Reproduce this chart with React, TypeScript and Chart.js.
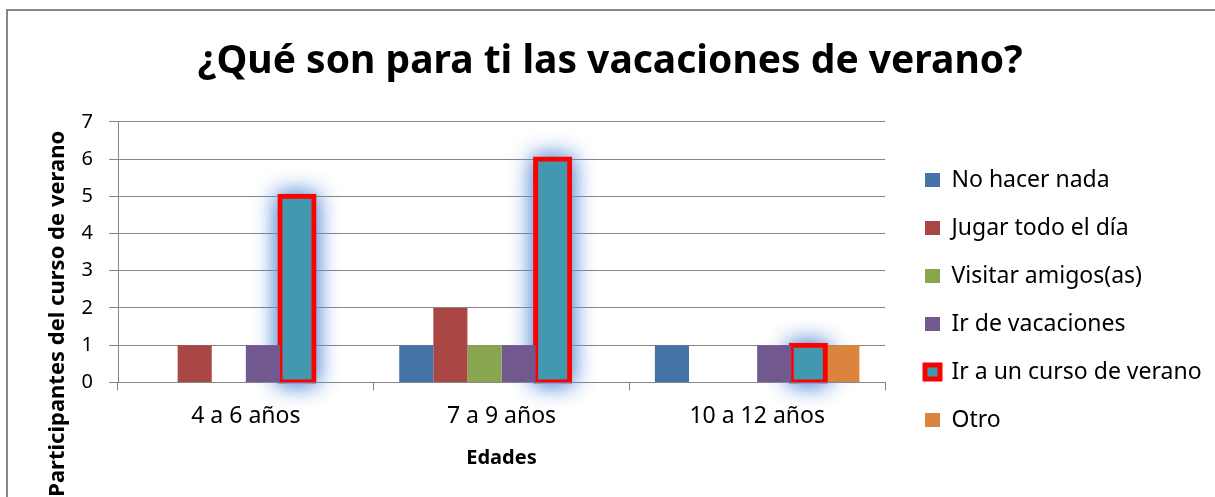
import React, { useEffect, useRef } from 'react';
import { Chart, registerables } from 'chart.js';

Chart.register(...registerables);

const chartTitle = '¿Qué son para ti las vacaciones de verano?';
const yAxisTitle = 'Participantes del curso de verano';
const xAxisTitle = 'Edades';

const categories = ['4 a 6 años', '7 a 9 años', '10 a 12 años'];
const seriesNames = [
  'No hacer nada',
  'Jugar todo el día',
  'Visitar amigos(as)',
  'Ir de vacaciones',
  'Ir a un curso de verano',
  'Otro',
];
const noHacerNada = [0, 1, 1];
const jugarTodoElDia = [1, 2, 0];
const visitarAmigos = [0, 1, 0];
const irDeVacaciones = [1, 1, 1];
const irACursoDeVerano = [5, 6, 1];
const otro = [0, 0, 1];
const yMin = 0;
const yMax = 7;
const yStep = 1;

const seriesColors = ['#4572A7', '#AA4643', '#89A54E', '#71588F', '#4198AF', '#DB843D'];
const HIGHLIGHT = 4;

const FONT = '"Noto Sans", sans-serif';
const CANVAS_W = 1206;
const CANVAS_H = 485;
const LEGEND_FONT = 23;
const LEGEND_BOX_W = 15;
const LEGEND_PAD = 40;
const TARGET_RIGHT = 876;

const glowPlugin = {
  id: 'glow',
  beforeDatasetsDraw(chart: any) {
    const meta = chart.getDatasetMeta(HIGHLIGHT);
    if (!meta || meta.hidden) return;
    const ctx = chart.ctx;
    ctx.save();
    ctx.shadowColor = 'rgba(95,145,215,0.85)';
    ctx.shadowBlur = 22;
    ctx.fillStyle = 'rgba(120,165,225,1)';
    for (let k = 0; k < 2; k++) {
      for (const el of meta.data) {
        const { x, y, base, width } = el.getProps(['x', 'y', 'base', 'width'], true);
        ctx.fillRect(x - width / 2 - 2, Math.min(y, base) - 2, width + 4, Math.abs(base - y) + 4);
      }
    }
    ctx.restore();
  },
};

const yTitlePlugin = {
  id: 'yTitleRot',
  afterDraw(chart: any) {
    const { ctx, chartArea } = chart;
    ctx.save();
    ctx.translate(49, chartArea.top + 9);
    ctx.rotate(-Math.PI / 2);
    ctx.font = `bold 22px ${FONT}`;
    ctx.fillStyle = '#000';
    ctx.textAlign = 'right';
    ctx.textBaseline = 'middle';
    ctx.fillText(yAxisTitle, 0, 0);
    ctx.restore();
  },
};

export default function App() {
  const ref = useRef<HTMLCanvasElement | null>(null);

  useEffect(() => {
    if (!ref.current) return;
    const mctx = document.createElement('canvas').getContext('2d')!;
    mctx.font = `${LEGEND_FONT}px ${FONT}`;
    const maxW = Math.max(...seriesNames.map((s) => mctx.measureText(s).width));
    const legendWidth = LEGEND_PAD + LEGEND_BOX_W + LEGEND_FONT / 2 + maxW + 10;
    const padRight = Math.max(0, CANVAS_W - TARGET_RIGHT - legendWidth);

    const values = [noHacerNada, jugarTodoElDia, visitarAmigos, irDeVacaciones, irACursoDeVerano, otro];
    const datasets = seriesNames.map((name, i) => ({
      label: name,
      data: values[i],
      backgroundColor: seriesColors[i],
      borderColor: i === HIGHLIGHT ? '#FF0000' : seriesColors[i],
      borderWidth: i === HIGHLIGHT ? 5 : 0,
      borderSkipped: false,
      inflateAmount: i === HIGHLIGHT ? 2.5 : 0,
      barPercentage: 1,
      categoryPercentage: 0.8,
    }));

    Chart.defaults.font.family = FONT;
    const chart = new Chart(ref.current, {
      type: 'bar',
      data: { labels: categories, datasets },
      plugins: [glowPlugin, yTitlePlugin],
      options: {
        animation: false,
        responsive: false,
        layout: { padding: { left: 0, right: padRight, top: 0, bottom: 0 } },
        plugins: {
          tooltip: { enabled: false },
          title: {
            display: true,
            text: chartTitle,
            color: '#000',
            font: { size: 39, weight: 'bold', family: FONT },
            padding: { top: 26, bottom: 37 },
          },
          legend: {
            position: 'right',
            align: 'center',
            maxWidth: 600,
            title: {
              display: true,
              text: ' ',
              font: { size: 10, lineHeight: 1 },
              padding: { top: 66, bottom: 0 },
            },
            labels: {
              color: '#000',
              font: { size: LEGEND_FONT, lineHeight: '8px', family: FONT },
              boxWidth: LEGEND_BOX_W,
              boxHeight: 14,
              padding: LEGEND_PAD,
              generateLabels: (c: any) =>
                Chart.defaults.plugins.legend.labels
                  .generateLabels(c)
                  .map((l: any) => ({ ...l, text: [l.text] })),
            },
          },
        },
        scales: {
          x: {
            grid: {
              display: true,
              drawOnChartArea: false,
              tickLength: 8,
              color: '#868686',
              offset: true,
            },
            border: { color: '#868686', width: 1 },
            ticks: { color: '#000', font: { size: 23, family: FONT }, padding: 12 },
            title: {
              display: true,
              text: xAxisTitle,
              color: '#000',
              font: { size: 20, weight: 'bold', family: FONT },
              padding: { top: 4, bottom: 27 },
            },
          },
          y: {
            min: yMin,
            max: yMax,
            ticks: { stepSize: yStep, color: '#000', font: { size: 20, family: FONT }, padding: 16 },
            grid: { color: '#868686', tickLength: 9, lineWidth: 1 },
            border: { color: '#868686', width: 1 },
            afterFit: (scale: any) => {
              scale.width = 109;
            },
          },
        },
      },
    });
    return () => chart.destroy();
  }, []);

  return (
    <div style={{ position: 'fixed', left: 0, top: 0, width: 1215, height: 497, overflow: 'hidden', background: '#fff' }}>
      <div
        style={{
          position: 'absolute',
          left: 6,
          top: 9,
          width: 1300,
          height: 600,
          borderTop: '2px solid #878787',
          borderLeft: '2px solid #878787',
        }}
      />
      <canvas
        ref={ref}
        width={CANVAS_W}
        height={CANVAS_H}
        style={{ position: 'absolute', left: 9, top: 12, width: CANVAS_W, height: CANVAS_H }}
      />
    </div>
  );
}
